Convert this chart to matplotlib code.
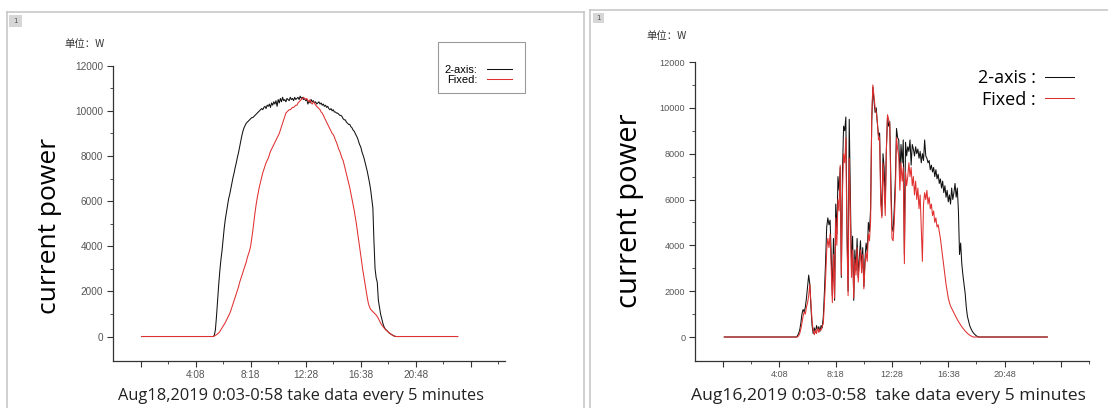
import numpy as np
import matplotlib
matplotlib.use("Agg")
import matplotlib.pyplot as plt
from matplotlib.lines import Line2D
from matplotlib.patches import Rectangle

N_POINTS = 288                      # one sample every 5 minutes, slot 1 = 0:03
slot = np.arange(1, N_POINTS + 1)

tick_pos = [0, 50, 100, 150, 200, 250, 300]
tick_text = ["", "4:08", "8:18", "12:28", "16:38", "20:48", ""]

# Aug 18, 2019 (clear day) - power in W, starting at slot 67, zero before/after
aug18_start = 67
aug18_2axis = [
    50, 300, 900, 1600, 2300, 2900, 3400, 3800, 4300, 4800,
    5200, 5500, 5800, 6100, 6300, 6550, 6800, 7050, 7250, 7500,
    7700, 7950, 8150, 8400, 8650, 8900, 9100, 9250, 9350, 9450,
    9500, 9550, 9600, 9650, 9700, 9700, 9750, 9800, 9850, 9900,
    9950, 10000, 10050, 10100, 10050, 10150, 10200, 10100, 10250, 10200,
    10300, 10150, 10350, 10250, 10400, 10300, 10450, 10200, 10500, 10350,
    10550, 10400, 10600, 10450, 10500, 10400, 10550, 10500, 10450, 10600,
    10500, 10550, 10450, 10600, 10500, 10550, 10600, 10500, 10650, 10550,
    10600, 10500, 10550, 10450, 10500, 10300, 10450, 10350, 10500, 10400,
    10450, 10350, 10400, 10300, 10350, 10400, 10300, 10350, 10250, 10300,
    10200, 10250, 10150, 10200, 10100, 10050, 10100, 10000, 10050, 9950,
    9950, 9900, 9900, 9850, 9800, 9800, 9750, 9650, 9600, 9600,
    9500, 9450, 9400, 9400, 9300, 9250, 9150, 9100, 9000, 8900,
    8800, 8650, 8500, 8400, 8200, 8050, 7900, 7700, 7500, 7300,
    7050, 6800, 6500, 6100, 5700, 4200, 3000, 2600, 2400, 1600,
    1300, 1000, 800, 600, 450, 350, 300, 250, 200, 150,
    120, 90, 60, 30, 10, 0,
]
aug18_fixed = [
    20, 50, 80, 120, 160, 220, 300, 380, 460, 540,
    620, 720, 820, 920, 1020, 1150, 1300, 1450, 1600, 1750,
    1900, 2050, 2200, 2400, 2550, 2700, 2850, 3000, 3150, 3300,
    3500, 3650, 3800, 4000, 4350, 4700, 5100, 5500, 5850, 6150,
    6400, 6650, 6850, 7050, 7250, 7400, 7550, 7700, 7800, 7900,
    8050, 8200, 8300, 8400, 8500, 8600, 8700, 8800, 8900, 9000,
    9150, 9300, 9450, 9600, 9750, 9900, 9950, 10000, 10050, 10050,
    10100, 10150, 10150, 10200, 10250, 10250, 10350, 10400, 10450, 10500,
    10550, 10600, 10550, 10500, 10550, 10450, 10400, 10500, 10350, 10300,
    10400, 10350, 10250, 10200, 10150, 10100, 10050, 9950, 9900, 9800,
    9700, 9600, 9500, 9400, 9300, 9200, 9100, 9000, 8950, 8850,
    8700, 8600, 8450, 8300, 8200, 8050, 7900, 7800, 7600, 7400,
    7200, 7000, 6800, 6600, 6350, 6100, 5850, 5600, 5300, 5000,
    4650, 4300, 3950, 3600, 3250, 2900, 2600, 2300, 2000, 1700,
    1450, 1300, 1200, 1150, 1100, 1050, 1000, 950, 880, 800,
    700, 600, 520, 450, 390, 330, 280, 240, 200, 160,
    120, 80, 50, 25, 10, 0,
]

# Aug 16, 2019 (cloudy day), starting at slot 66
aug16_start = 66
aug16_2axis = [
    50, 150, 300, 600, 1000, 1200, 1100, 1300, 1700, 2200,
    2700, 2300, 1300, 500, 150, 400, 200, 500, 300, 450,
    250, 500, 400, 900, 2000, 3300, 4800, 5200, 4900, 5100,
    3600, 1800, 4300, 1600, 5800, 4500, 7000, 6400, 7400, 2600,
    7200, 9200, 9000, 9600, 4800, 2000, 9500, 6200, 3000, 4400,
    1600, 3800, 2900, 4300, 2600, 3500, 4200, 3000, 3900, 2200,
    3400, 4100, 3700, 5000, 4600, 5600, 9400, 10900, 10300, 9800,
    10000, 9300, 8800, 8900, 6300, 5300, 8000, 7400, 5800, 8200,
    9600, 9200, 9400, 6800, 4800, 4600, 5600, 6900, 9100, 8700,
    8600, 7100, 8400, 7600, 8600, 3600, 8500, 7900, 8300, 8100,
    8600, 7500, 8400, 8200, 7900, 8300, 8000, 8200, 7800, 8100,
    7600, 8000, 7700, 8600, 7900, 7800, 7600, 7700, 7300, 7500,
    7200, 7400, 7000, 7300, 6900, 7100, 6700, 6900, 6500, 6800,
    6300, 6600, 6100, 6400, 5900, 6200, 5800, 6500, 6000, 6300,
    6700, 6100, 6500, 5500, 3600, 4100, 3200, 2700, 2300, 1900,
    1300, 900, 700, 500, 380, 280, 200, 140, 90, 50,
    20, 0,
]
aug16_fixed = [
    0, 50, 150, 350, 600, 900, 1100, 1000, 1300, 1500,
    1800, 2300, 1500, 700, 300, 100, 300, 150, 400, 200,
    350, 300, 450, 600, 1500, 2500, 3800, 4300, 3900, 4500,
    3000, 1500, 3600, 1700, 5200, 4000, 6000, 5500, 7500, 2700,
    6300, 8000, 7600, 8700, 4200, 1800, 7800, 5400, 2600, 3800,
    1700, 3400, 2700, 3900, 2400, 3200, 3800, 2800, 3600, 2100,
    3100, 3700, 3300, 4500, 4200, 5100, 9600, 11000, 10500, 10000,
    9800, 9400, 8600, 8700, 5800, 5200, 7600, 6500, 5300, 8100,
    9700, 9500, 9300, 6200, 4300, 4200, 5000, 6300, 8700, 8200,
    7900, 6400, 7600, 6800, 7400, 3200, 7200, 6600, 7000, 7600,
    7000, 7400, 6600, 7000, 6200, 6800, 6000, 6500, 5600, 6200,
    4800, 3300, 5800, 6300, 6000, 6400, 5800, 6100, 5600, 5800,
    5300, 5500, 5000, 5200, 4800, 4900, 4600, 4300, 3900, 3500,
    3100, 2700, 2300, 2000, 1700, 1500, 1350, 1250, 1150, 1050,
    950, 850, 760, 680, 600, 520, 450, 380, 320, 260,
    210, 160, 120, 80, 50, 25, 0,
]


def day_series(start, vals):
    out = np.zeros(N_POINTS)
    out[start - 1:start - 1 + len(vals)] = vals
    return out


W, H = 1108, 408


def fx(px):
    return px / W


def fy(py):
    return 1 - py / H


fig = plt.figure(figsize=(W / 100, H / 100), dpi=100)
fig.patch.set_facecolor("white")

# window frames of the two screenshot panes
frame_kw = dict(color="#c4c4c4", lw=1.1, transform=fig.transFigure)
fig.add_artist(Line2D([fx(7), fx(7)], [fy(12), 0], **frame_kw))
fig.add_artist(Line2D([fx(7), fx(584)], [fy(12), fy(12)], **frame_kw))
fig.add_artist(Line2D([fx(584), fx(584)], [fy(12), 0], **frame_kw))
fig.add_artist(Line2D([fx(590), 1], [fy(10), fy(10)], **frame_kw))
fig.add_artist(Line2D([fx(590), fx(590)], [fy(10), 0], **frame_kw))
for bx, by, bw, bh in [(9, 15, 13, 12), (593, 13, 11, 10)]:
    fig.add_artist(Rectangle((fx(bx), fy(by + bh)), bw / W, bh / H,
                             transform=fig.transFigure, facecolor="#d6d6d6",
                             edgecolor="none"))
    fig.text(fx(bx + bw / 2), fy(by + bh / 2), "1", fontsize=5,
             color="#555555", ha="center", va="center")


def style_axis(ax, xlim, ylim, labelsize):
    ax.set_xlim(*xlim)
    ax.set_ylim(*ylim)
    for s in ("top", "right"):
        ax.spines[s].set_visible(False)
    for s in ("left", "bottom"):
        ax.spines[s].set_color("#333333")
        ax.spines[s].set_linewidth(0.9)
    ax.set_xticks(tick_pos)
    ax.set_xticklabels(tick_text)
    ax.set_xticks(np.arange(25, 330, 50), minor=True)
    ax.set_yticks(range(0, 12001, 2000))
    ax.set_yticks(range(1000, 12000, 2000), minor=True)
    ax.tick_params(which="major", direction="out", length=4, width=0.8,
                   labelsize=labelsize, colors="#333333", pad=3)
    ax.tick_params(which="minor", direction="out", length=2, width=0.6,
                   colors="#333333")
    for lab in ax.get_xticklabels() + ax.get_yticklabels():
        lab.set_family("Liberation Sans")
        lab.set_color("#555555")


black = "#111111"
red = "#e0302f"
cjk = ["Noto Sans CJK SC", "DejaVu Sans"]

# ---- left: Aug 18 ----
ax1 = fig.add_axes([fx(113), fy(360.5), (505 - 113) / W, (360.5 - 65.7) / H])
ax1.plot(slot, day_series(aug18_start, aug18_2axis), color=black, lw=0.75,
         label="2-axis:")
ax1.plot(slot, day_series(aug18_start, aug18_fixed), color=red, lw=0.75,
         label="Fixed:")
style_axis(ax1, (-25, 331), (-1063, 12000), 7.2)
ax1.legend(loc="center", bbox_to_anchor=(fx(478), fy(75)),
           bbox_transform=fig.transFigure, frameon=False,
           markerfirst=False, handlelength=2.2, handletextpad=0.9,
           labelspacing=0.0, borderpad=0, borderaxespad=0,
           prop={"family": "Liberation Sans", "size": 8})
fig.add_artist(Rectangle((fx(438), fy(93)), 87 / W, 51 / H,
                         transform=fig.transFigure, fill=False,
                         edgecolor="#9a9a9a", lw=0.8))
fig.text(fx(85), fy(44), "单位：W", family=cjk, fontsize=7.5,
         color="#333333", ha="center", va="center")
fig.text(fx(50), fy(226), "current power", family="Open Sans", fontsize=19,
         rotation=90, ha="center", va="center")
fig.text(fx(301), fy(396), "Aug18,2019 0:03-0:58 take data every 5 minutes",
         family="Open Sans", fontsize=11.8, ha="center", va="center",
         color="#222222")

# ---- right: Aug 16 ----
ax2 = fig.add_axes([fx(695), fy(360.5), (1089 - 695) / W, (360.5 - 62) / H])
ax2.plot(slot, day_series(aug16_start, aug16_2axis), color=black, lw=0.75,
         label="2-axis :")
ax2.plot(slot, day_series(aug16_start, aug16_fixed), color=red, lw=0.75,
         label="Fixed :")
style_axis(ax2, (-25, 323), (-1025, 12000), 6.6)
ax2.legend(loc="upper left", bbox_to_anchor=(fx(978), fy(69)),
           bbox_transform=fig.transFigure, frameon=False, markerfirst=False,
           handlelength=1.6, handletextpad=0.5, labelspacing=0.2,
           borderpad=0, borderaxespad=0,
           prop={"family": "Open Sans", "size": 13})
fig.text(fx(667), fy(36), "单位：W", family=cjk, fontsize=7.5,
         color="#333333", ha="center", va="center")
fig.text(fx(630), fy(211), "current power", family="Open Sans", fontsize=21,
         rotation=90, ha="center", va="center")
fig.text(fx(888), fy(396), "Aug16,2019 0:03-0:58  take data every 5 minutes",
         family="Open Sans", fontsize=12.6, ha="center", va="center",
         color="#222222")

fig.savefig("out.png", dpi=100)
